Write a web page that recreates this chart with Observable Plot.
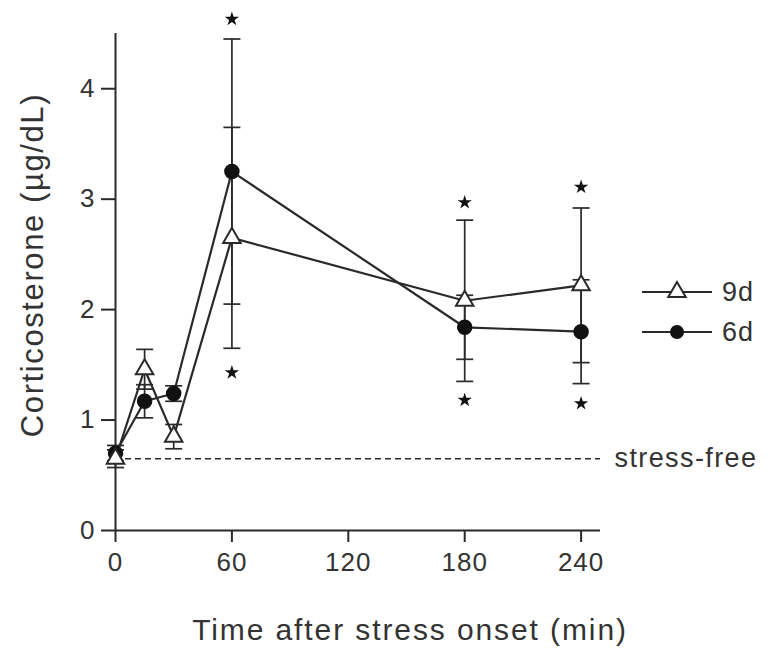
<!DOCTYPE html>
<html>
<head>
<meta charset="utf-8">
<script src="https://cdn.jsdelivr.net/npm/d3@7"></script>
<script src="https://cdn.jsdelivr.net/npm/@observablehq/plot@0.6"></script>
<style>
  html, body { margin: 0; padding: 0; background: #fff; }
  #chart svg text { font-family: "Liberation Sans", Arial, sans-serif; }
</style>
</head>
<body>
<div id="chart"></div>
<script>
// ---- data ----
const times = [0, 15, 30, 60, 180, 240];
const mean9d = [0.65, 1.46, 0.85, 2.65, 2.08, 2.22];
const se9d   = [0.08, 0.18, 0.11, 1.00, 0.73, 0.70];
const mean6d = [0.70, 1.17, 1.24, 3.25, 1.84, 1.80];
const se6d   = [0.07, 0.15, 0.07, 1.20, 0.29, 0.47];
const starTimes  = [60, 60, 180, 180, 240, 240];
const starValues = [4.63, 1.43, 2.97, 1.18, 3.11, 1.15];
const stressFree = 0.65;
const xTicks = [0, 60, 120, 180, 240];
const yTicks = [0, 1, 2, 3, 4];
const seriesNames = ["9d", "6d"];
const xLabel = "Time after stress onset (min)";
const yLabel = "Corticosterone (\u00b5g/dL)";
const refLabel = "stress-free";

const ink = "#2a2a2a";
const rows9 = times.map((t, i) => ({t, v: mean9d[i], se: se9d[i]}));
const rows6 = times.map((t, i) => ({t, v: mean6d[i], se: se6d[i]}));
const stars = starTimes.map((t, i) => ({t, v: starValues[i]}));

const cap = {draw(ctx, size) { const w = Math.sqrt(size / Math.PI); ctx.moveTo(-w, 0); ctx.lineTo(w, 0); }};

function errorMarks(rows) {
  return [
    Plot.ruleX(rows, {x: "t", y1: d => d.v - d.se, y2: d => d.v + d.se, stroke: ink, strokeWidth: 1.7}),
    Plot.dot(rows, {x: "t", y: d => d.v + d.se, symbol: cap, r: 8.5, stroke: ink, strokeWidth: 1.7, fill: "none"}),
    Plot.dot(rows, {x: "t", y: d => d.v - d.se, symbol: cap, r: 8.5, stroke: ink, strokeWidth: 1.7, fill: "none"})
  ];
}

const chart = Plot.plot({
  width: 771,
  height: 665,
  marginLeft: 115,
  marginRight: 171,
  marginTop: 33,
  marginBottom: 135,
  style: {color: "#333", fontFamily: "Liberation Sans, Arial, sans-serif", background: "#fff"},
  x: {domain: [0, 250]},
  y: {domain: [0, 4.5]},
  marks: [
    Plot.ruleY([stressFree], {x1: 0, x2: 250, stroke: ink, strokeWidth: 1.6, strokeDasharray: "6,4"}),
    Plot.text([stressFree], {x: 250, y: d => d, text: () => refLabel, textAnchor: "start", dx: 14, fontSize: 27, fill: "#333"}),
    Plot.ruleX([0], {y1: 0, y2: 4.5, stroke: ink, strokeWidth: 2}),
    Plot.ruleY([0], {x1: 0, x2: 250, stroke: ink, strokeWidth: 2}),
    Plot.axisX({ticks: xTicks, tickFormat: d => String(d), tickSize: 12, tickPadding: 10, fontSize: 26, label: null, stroke: ink, strokeWidth: 2}),
    Plot.axisY({ticks: yTicks, tickFormat: d => String(d), tickSize: 14, tickPadding: 6, fontSize: 26, label: null, stroke: ink, strokeWidth: 2}),
    ...errorMarks(rows9),
    ...errorMarks(rows6),
    Plot.line(rows9, {x: "t", y: "v", stroke: ink, strokeWidth: 2.2}),
    Plot.line(rows6, {x: "t", y: "v", stroke: ink, strokeWidth: 2.2}),
    Plot.dot(rows6, {x: "t", y: "v", r: 7, fill: "#111", stroke: "#111"}),
    Plot.dot(rows9, {x: "t", y: "v", symbol: "triangle", r: 6.5, fill: "#fff", stroke: ink, strokeWidth: 2}),
    Plot.dot(stars, {x: "t", y: "v", symbol: "star", r: 4.5, fill: "#111"}),
    Plot.text([xLabel], {frameAnchor: "bottom", lineAnchor: "middle", textAnchor: "middle", dy: 100, dx: 52, fontSize: 30, fill: "#333"}),
    Plot.text([yLabel], {frameAnchor: "left", textAnchor: "middle", lineAnchor: "middle", rotate: -90, dx: -82, dy: -17, fontSize: 31, fill: "#333"})
  ]
});

const svg = d3.select(chart);
// letter spacing to match the wide lettering of the original
const spacing = new Map([[xLabel, "1.9px"], [yLabel, "1.6px"], [refLabel, "1.4px"]]);
svg.selectAll("text").each(function() {
  const s = spacing.get(this.textContent);
  d3.select(this).style("letter-spacing", s || "1px");
});

// legend drawn inside the svg
const leg = svg.append("g");
const legendY = [292, 332];
seriesNames.forEach((name, i) => {
  const g = leg.append("g").attr("transform", `translate(0,${legendY[i]})`);
  g.append("line").attr("x1", 642).attr("x2", 712).attr("y1", 0).attr("y2", 0).attr("stroke", ink).attr("stroke-width", 2);
  if (name === "9d") {
    g.append("path").attr("d", d3.symbol(d3.symbolTriangle, Math.PI * 6.5 * 6.5)()).attr("transform", "translate(677,0)")
      .attr("fill", "#fff").attr("stroke", ink).attr("stroke-width", 2);
  } else {
    g.append("circle").attr("cx", 677).attr("cy", 0).attr("r", 7).attr("fill", "#111");
  }
  g.append("text").attr("x", 722).attr("y", 0).attr("dy", "0.35em").attr("text-anchor", "start")
    .attr("font-size", 27).attr("fill", "#333").style("letter-spacing", "1px").text(name);
});

document.getElementById("chart").appendChild(chart);
</script>
</body>
</html>
